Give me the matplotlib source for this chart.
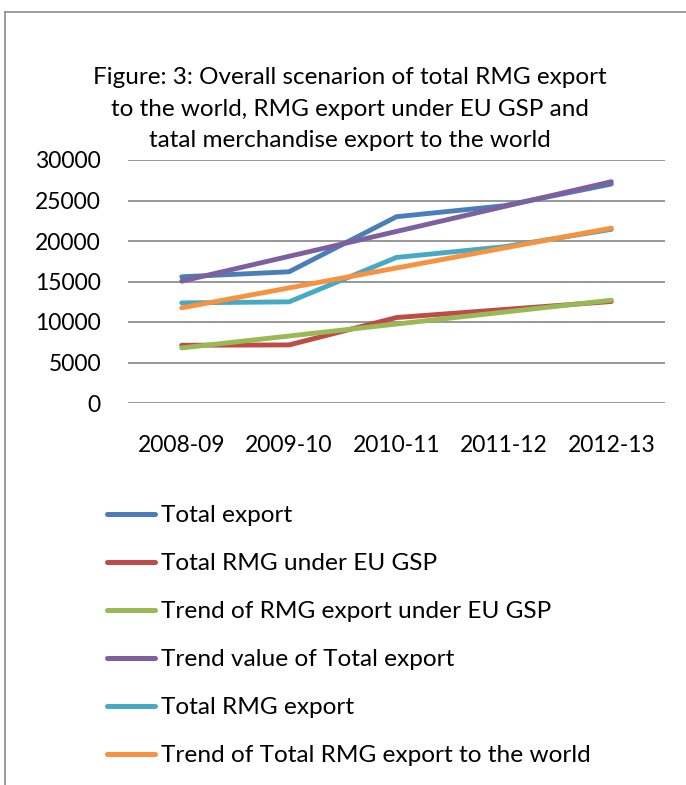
import matplotlib
matplotlib.use("Agg")
import matplotlib.pyplot as plt
from matplotlib.lines import Line2D

plt.rcParams['font.family'] = ['Lato', 'DejaVu Sans']

categories = ["2008-09", "2009-10", "2010-11", "2011-12", "2012-13"]
total_export = [15580, 16200, 23000, 24350, 27030]
rmg_eu_gsp = [7130, 7170, 10550, 11540, 12530]
trend_rmg_eu_gsp = [6800, 8270, 9750, 11220, 12690]
trend_total_export = [15040, 18110, 21180, 24250, 27320]
total_rmg_export = [12360, 12490, 17970, 19290, 21430]
trend_total_rmg = [11750, 14210, 16670, 19130, 21590]

series_names = ["Total export", "Total RMG under EU GSP", "Trend of RMG export under EU GSP",
                "Trend value of Total export", "Total RMG export",
                "Trend of Total RMG export to the world"]
series_values = [total_export, rmg_eu_gsp, trend_rmg_eu_gsp, trend_total_export,
                 total_rmg_export, trend_total_rmg]
colors = ['#4A7EBB', '#BE4B48', '#98B954', '#7D60A0', '#46AAC5', '#F69240']

yticks = [0, 5000, 10000, 15000, 20000, 25000, 30000]

W, H = 686, 785
fig = plt.figure(figsize=(W / 100, H / 100), dpi=100)

# frame of the chart area
fig.add_artist(Line2D([5 / W, 5 / W], [0, 1 - 12 / H], transform=fig.transFigure,
                      color='#8C8C8C', lw=1.2))
fig.add_artist(Line2D([5 / W, 1], [1 - 12 / H, 1 - 12 / H], transform=fig.transFigure,
                      color='#8C8C8C', lw=1.2))

title = ("Figure: 3: Overall scenarion of total RMG export\n"
         "to the world, RMG export under EU GSP and\n"
         "tatal merchandise export to the world")
fig.text(350 / W, 1 - 109 / H, title, ha='center', va='center', fontsize=17.5,
         linespacing=1.6, color='black')

left, right, top, bottom = 128, 665, 160, 403
ax = fig.add_axes([left / W, 1 - bottom / H, (right - left) / W, (bottom - top) / H])

x = list(range(len(categories)))
for name, vals, c in zip(series_names, series_values, colors):
    ax.plot(x, vals, color=c, lw=3.5, solid_capstyle='round', solid_joinstyle='round',
            label=name)

ax.set_xlim(-0.5, len(categories) - 0.5)
ax.set_ylim(0, 30000)
ax.set_yticks(yticks)
ax.set_yticklabels([str(v) for v in yticks])
ax.set_xticks(x)
ax.set_xticklabels(categories)
ax.tick_params(axis='both', length=0, labelsize=16.5)
ax.tick_params(axis='y', pad=19.5)
ax.tick_params(axis='x', pad=23)
ax.grid(axis='y', color='#868686', lw=1.2)
ax.set_axisbelow(True)
for s in ax.spines.values():
    s.set_visible(False)

handles, labels = ax.get_legend_handles_labels()
leg = fig.legend(handles, labels, loc='upper left', bbox_to_anchor=(107 / W, 1 - 505 / H),
                 frameon=False, fontsize=17.6, handlelength=1.95, handletextpad=0.25,
                 labelspacing=1.1, borderpad=0, borderaxespad=0)
for l in leg.get_lines():
    l.set_linewidth(3.6)
    l.set_solid_capstyle('round')

fig.savefig("out.png", dpi=100)
